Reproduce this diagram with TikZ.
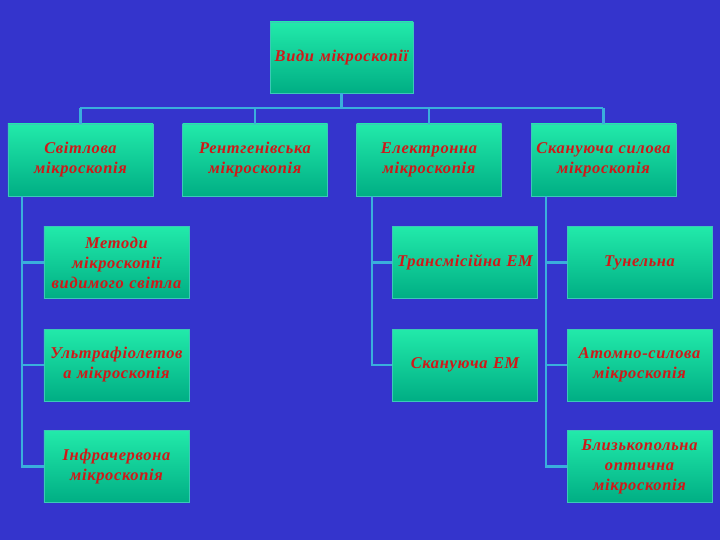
\documentclass[tikz,border=0pt]{standalone}
\usepackage{fontspec}
\setmainfont{Liberation Serif}[LetterSpace=4]
\definecolor{bg}{HTML}{3434CC}
\definecolor{boxtop}{HTML}{22EAAA}
\definecolor{boxbot}{HTML}{00AE84}
\definecolor{boxedge}{HTML}{3CC8B8}
\definecolor{txt}{HTML}{D01818}
\definecolor{lnk}{HTML}{3AAEDC}
\begin{document}
\begin{tikzpicture}[x=1bp,y=-1bp,
  box/.style={rectangle, minimum width=145bp, minimum height=72bp,
    top color=boxtop, bottom color=boxbot, draw=boxedge, line width=0.8bp,
    font=\bfseries\itshape\fontsize{16.5}{20}\selectfont, text=txt,
    align=center, inner sep=0pt, text width=143bp},
  conn/.style={draw=lnk, line width=2.2bp}]
\fill[bg] (0,0) rectangle (720,540);
\node[box, minimum width=143bp, minimum height=71bp] (top) at (341.5,57.5) {Види мікроскопії};
\node[box] (A) at (80.5,160) {Світлова\\мікроскопія};
\node[box] (B) at (255,160) {Рентгенівська\\мікроскопія};
\node[box] (C) at (429,160) {Електронна\\мікроскопія};
\node[box] (D) at (603.5,160) {Скануюча силова\\мікроскопія};
\node[box] (A1) at (116.5,262.5) {Методи\\мікроскопії\\видимого світла};
\node[box] (A2) at (116.5,365) {Ультрафіолетов\\а мікроскопія};
\node[box] (A3) at (116.5,466.5) {Інфрачервона\\мікроскопія};
\node[box] (C1) at (465,262.5) {Трансмісійна ЕМ};
\node[box] (C2) at (465,365) {Скануюча ЕМ};
\node[box] (D1) at (639.5,262.5) {Тунельна};
\node[box] (D2) at (639.5,365) {Атомно-силова\\мікроскопія};
\node[box] (D3) at (639.5,466.5) {Близькопольна\\оптична\\мікроскопія};
% top tree
\coordinate (barL) at (80,108);
\coordinate (barR) at (603,108);
\draw[conn] (top.south) -- (top.south |- barL);
\draw[conn] (barL) -- (barR);
\foreach \n in {A,B,C,D} \draw[conn] (\n.north |- barL) -- (\n.north);
% left branch
\coordinate (aL) at (22,196);
\draw[conn] (aL) |- (A3.west);
\draw[conn] (aL |- A1.west) -- (A1.west);
\draw[conn] (aL |- A2.west) -- (A2.west);
% C branch
\coordinate (cL) at (372,196);
\draw[conn] (cL) |- (C2.west);
\draw[conn] (cL |- C1.west) -- (C1.west);
% D branch
\coordinate (dL) at (546,196);
\draw[conn] (dL) |- (D3.west);
\draw[conn] (dL |- D1.west) -- (D1.west);
\draw[conn] (dL |- D2.west) -- (D2.west);
\end{tikzpicture}
\end{document}
